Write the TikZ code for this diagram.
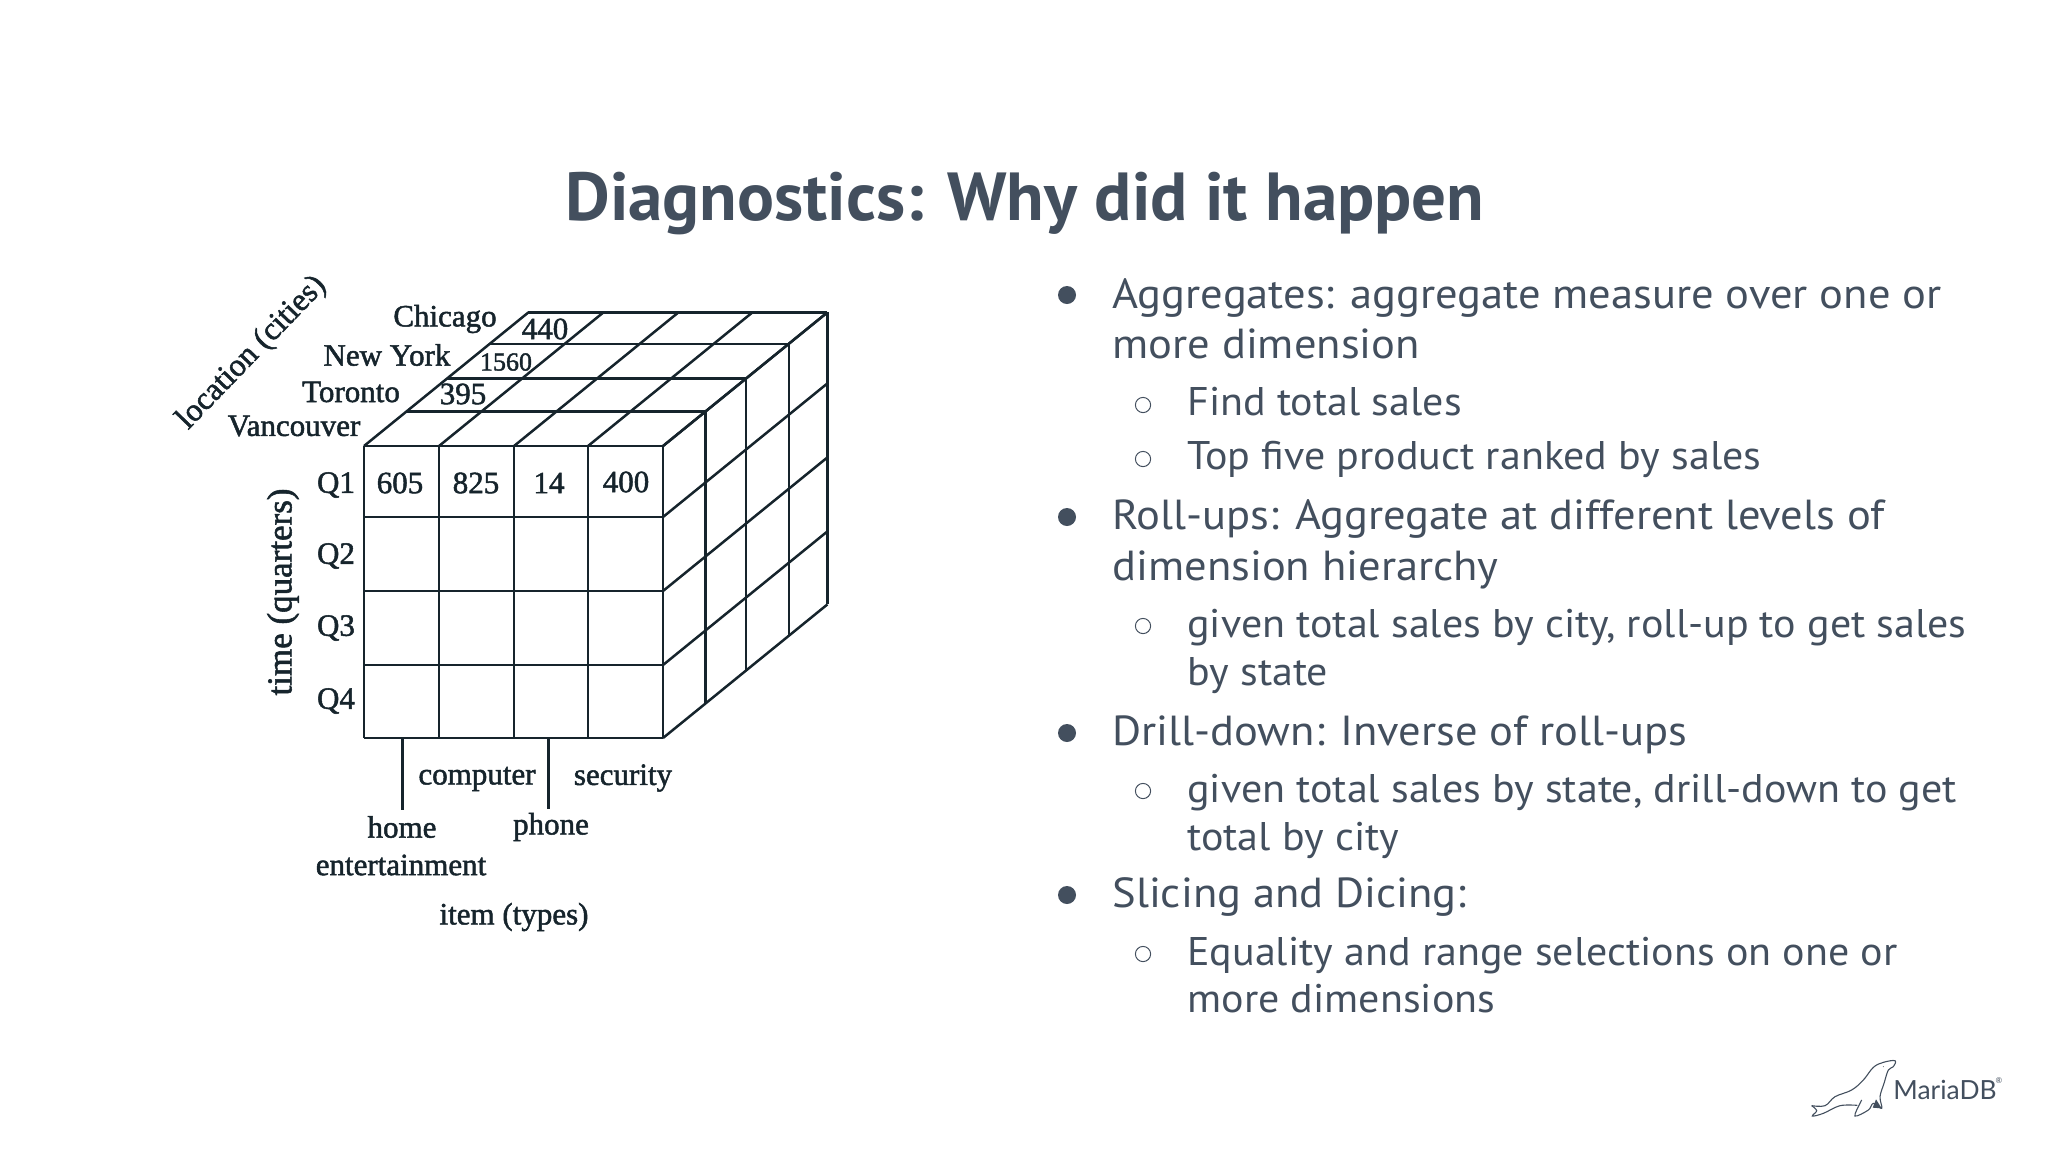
\documentclass[tikz,border=0pt]{standalone}
\usepackage{fontspec}
\usepackage{tikz}
\usetikzlibrary{calc}
\setmainfont{PT Sans}
\newfontfamily\titlefont[FakeStretch=1.015]{PT Sans Bold}
\newfontfamily\mainfont[FakeStretch=1.06]{PT Sans}
\newfontfamily\subfont[FakeStretch=1.05]{PT Sans}
\newfontfamily\cubefont[RawFeature={embolden=1.6}]{Liberation Serif}
\newfontfamily\logofont{Lato}
\definecolor{slate}{HTML}{434F5E}
\definecolor{inkline}{HTML}{16242C}
\tikzset{
  titletext/.style={text=slate,font=\fontsize{34}{40}\selectfont\titlefont,inner sep=0pt},
  mainitem/.style={text=slate,font=\fontsize{21}{25}\selectfont\mainfont,anchor=base west,inner sep=0pt},
  subitem/.style={text=slate,font=\fontsize{20}{24}\selectfont\subfont,anchor=base west,inner sep=0pt},
  mainbullet/.style={circle,fill=slate,minimum size=9pt,inner sep=0pt},
  subbullet/.style={circle,draw=slate,line width=.5pt,minimum size=7.6pt,inner sep=0pt},
  cubelabel/.style={text=inkline,font=\fontsize{15.5}{18}\selectfont\cubefont,inner sep=0pt},
  cubeline/.style={draw=inkline,line width=1.25pt},
}
\begin{document}
\begin{tikzpicture}[x=0.5pt,y=-0.5pt]
\useasboundingbox (0,0) rectangle (2048,1152);

\node[titletext] (title) at (1025,204) {Diagnostics: Why did it happen};

% cube corners
\foreach \i/\xv in {0/364,1/439,2/514,3/588,4/663}
  \foreach \j/\yv in {0/446,1/517,2/591,3/665,4/738}
    \coordinate (f\i\j) at (\xv,\yv);
\foreach \d/\s in {1/1.03,2/2.02,3/3.06,4/4} {
  \foreach \i in {0,...,4}
    \coordinate (t\i\d) at ($(f\i0)+\s*(41.1,-33.4)$);
  \foreach \j in {0,...,4}
    \coordinate (r\j\d) at ($(f4\j)+\s*(41.1,-33.4)$);
}
\foreach \k in {0,...,4} {
  \draw[cubeline] (f\k0) -- (f\k4) (f0\k) -- (f4\k);
  \draw[cubeline] (f\k0) -- (t\k4) (f4\k) -- (r\k4);
}
\foreach \d in {1,2,3,4}
  \draw[cubeline] (t0\d) -- (t4\d) (r0\d) -- (r4\d);

\node[cubelabel] (chicago) at (445,319) {Chicago};
\node[cubelabel] (newyork) at (387,355) {New York};
\node[cubelabel] (toronto) at (351,392) {Toronto};
\node[cubelabel] (vancouver) at (294,426) {Vancouver};
\node[cubelabel] (c440) at (545,329) {440};
\node[cubelabel,font=\fontsize{13}{16}\selectfont\cubefont] (c1560) at (506,362) {1560};
\node[cubelabel] (c395) at (463,394) {395};

\node[cubelabel] (q1) at (336,485) {Q1};
\node[cubelabel] (q2) at (336,556) {Q2};
\node[cubelabel] (q3) at (336,628) {Q3};
\node[cubelabel] (q4) at (336,701) {Q4};

\node[cubelabel] (c605) at (400,483) {605};
\node[cubelabel] (c825) at (476,483) {825};
\node[cubelabel] (c14) at (549,483) {14};
\node[cubelabel] (c400) at (626,482) {400};

\node[cubelabel,font=\fontsize{17.5}{20}\selectfont\cubefont,rotate=90] (timeaxis) at (283,592) {time (quarters)};
\node[cubelabel,font=\fontsize{16}{18}\selectfont\cubefont,rotate=46] (locaxis) at (252,353) {location (cities)};

\node[cubelabel] (computer) at (477,779) {computer};
\node[cubelabel] (security) at (623,778) {security};
\node[cubelabel] (home) at (402,827) {home};
\node[cubelabel] (entertainment) at (401,865) {entertainment};
\node[cubelabel] (phone) at (551,827) {phone};
\node[cubelabel] (itemaxis) at (514,917) {item (types)};

\coordinate (hometop) at (402.5,738);
\coordinate (homeend) at (402.5,810);
\coordinate (phonetop) at (548.5,738);
\coordinate (phoneend) at (548.5,809);
\draw[cubeline] (hometop) -- (homeend) (phonetop) -- (phoneend);

% text column
\node[mainbullet] (b1) at (1067,295) {};
\node[mainitem] (l1) at (1112,308) {Aggregates: aggregate measure over one or};
\node[mainitem] (l2) at (1112,358) {more dimension};
\node[subbullet] (s1) at (1143,405) {};
\node[subitem] (l3) at (1187,415) {Find total sales};
\node[subbullet] (s2) at (1143,459) {};
\node[subitem] (l4) at (1187,469) {Top five product ranked by sales};

\node[mainbullet] (b2) at (1067,517) {};
\node[mainitem] (l5) at (1112,529) {Roll-ups: Aggregate at different levels of};
\node[mainitem] (l6) at (1112,580) {dimension hierarchy};
\node[subbullet] (s3) at (1143,626) {};
\node[subitem] (l7) at (1187,637) {given total sales by city, roll-up to get sales};
\node[subitem] (l8) at (1187,685) {by state};

\node[mainbullet] (b3) at (1067,733) {};
\node[mainitem] (l9) at (1112,745) {Drill-down: Inverse of roll-ups};
\node[subbullet] (s4) at (1143,791) {};
\node[subitem] (l10) at (1187,802) {given total sales by state, drill-down to get};
\node[subitem] (l11) at (1187,850) {total by city};

\node[mainbullet] (b4) at (1067,895) {};
\node[mainitem] (l12) at (1112,907) {Slicing and Dicing:};
\node[subbullet] (s5) at (1143,954) {};
\node[subitem] (l13) at (1187,965) {Equality and range selections on one or};
\node[subitem] (l14) at (1187,1012) {more dimensions};

% logo
\node[text=slate,font=\fontsize{13.2}{15}\selectfont\logofont,inner sep=0pt] (logotext) at (1945,1090) {MariaDB};
\node[text=slate,font=\fontsize{4}{5}\selectfont\logofont,inner sep=0pt] (logoreg) at (1999,1081) {®};
\begin{scope}[shift={(1780,1040)},scale=1/3,draw=slate,line width=.55pt]
\draw plot[smooth,tension=.6] coordinates {(95,197) (135,197) (165,170) (215,150) (250,120) (280,82) (310,67) (345,62) (340,80) (325,90) (312,130) (300,170) (305,205) (280,190) (265,210) (225,228) (240,190) (245,180)};
\draw plot[smooth,tension=.6] coordinates {(232,196) (180,197) (130,220) (97,228) (110,212) (95,197)};
\fill[slate] (288,178) -- (305,205) -- (278,203) -- cycle;
\fill[slate] (310,80) circle (1.5);
\end{scope}
\end{tikzpicture}
\end{document}
